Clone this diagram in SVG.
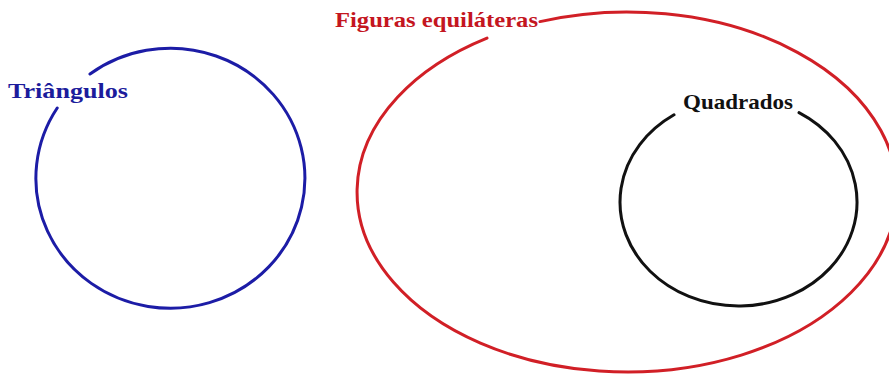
<svg xmlns="http://www.w3.org/2000/svg" width="889" height="374" viewBox="0 0 889 374">
  <style>
    .ring { fill: none; stroke-width: 3; stroke-linecap: round; }
    .lbl { font-family: "Liberation Serif", "Times New Roman", serif; font-weight: bold; }
  </style>
  <rect x="0" y="0" width="889" height="374" fill="#ffffff"/>
  <g id="triangulos">
    <path class="ring" stroke="#1c1ca6" d="M 90 74 A 134.5 130 0 1 1 57.2 108"/>
    <text class="lbl" x="8" y="98" font-size="22" fill="#1c1c9c" textLength="120" lengthAdjust="spacingAndGlyphs">Triângulos</text>
  </g>
  <g id="figuras-equilateras">
    <path class="ring" stroke="#d11f26" d="M 540 21.6 A 270 180 0 1 1 487 38.1"/>
    <text class="lbl" x="335" y="27" font-size="22" fill="#c4161f" textLength="203" lengthAdjust="spacingAndGlyphs">Figuras equiláteras</text>
  </g>
  <g id="quadrados">
    <path class="ring" stroke="#111111" d="M 799 112.6 A 118.5 104 0 1 1 674 114.8"/>
    <text class="lbl" x="683" y="109" font-size="21" fill="#111111" textLength="110" lengthAdjust="spacingAndGlyphs">Quadrados</text>
  </g>
  <g id="connectors"></g>
</svg>
